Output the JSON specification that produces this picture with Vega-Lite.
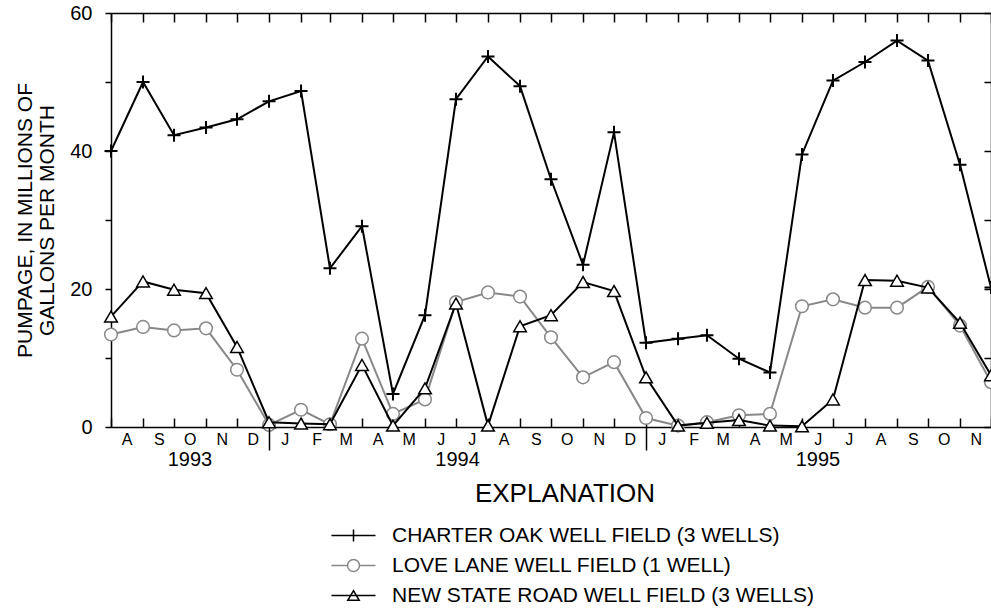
{
  "$schema": "https://vega.github.io/schema/vega-lite/v6.json",
  "width": 880,
  "height": 414,
  "autosize": {"type": "none"},
  "padding": {"left": 111, "top": 13, "right": 0, "bottom": 181},
  "background": "white",
  "config": {
    "view": {"stroke": null},
    "font": "Liberation Sans",
    "axis": {
      "domainColor": "black", "tickColor": "black", "domainWidth": 1.5, "tickWidth": 1.5,
      "labelColor": "black", "titleColor": "black", "grid": false,
      "labelFont": "Liberation Sans", "titleFont": "Liberation Sans", "titleFontWeight": "normal"
    },
    "legend": {"labelFont": "Liberation Sans", "titleFont": "Liberation Sans", "labelColor": "black", "titleColor": "black"}
  },
  "data": {
    "values": [
      {"date": "1993-08-01", "CO": 40.0, "LL": 13.4, "NSR": 16.0},
      {"date": "1993-09-01", "CO": 50.0, "LL": 14.5, "NSR": 21.1},
      {"date": "1993-10-01", "CO": 42.3, "LL": 14.0, "NSR": 19.9},
      {"date": "1993-11-01", "CO": 43.4, "LL": 14.3, "NSR": 19.4},
      {"date": "1993-12-01", "CO": 44.6, "LL": 8.3, "NSR": 11.6},
      {"date": "1994-01-01", "CO": 47.2, "LL": 0.3, "NSR": 0.7},
      {"date": "1994-02-01", "CO": 48.7, "LL": 2.5, "NSR": 0.5},
      {"date": "1994-03-01", "CO": 23.0, "LL": 0.4, "NSR": 0.4},
      {"date": "1994-04-01", "CO": 29.1, "LL": 12.8, "NSR": 9.0},
      {"date": "1994-05-01", "CO": 4.8, "LL": 1.9, "NSR": 0.2},
      {"date": "1994-06-01", "CO": 16.2, "LL": 4.0, "NSR": 5.6},
      {"date": "1994-07-01", "CO": 47.5, "LL": 18.1, "NSR": 17.9},
      {"date": "1994-08-01", "CO": 53.7, "LL": 19.5, "NSR": 0.2},
      {"date": "1994-09-01", "CO": 49.4, "LL": 18.9, "NSR": 14.6},
      {"date": "1994-10-01", "CO": 35.9, "LL": 13.0, "NSR": 16.2},
      {"date": "1994-11-01", "CO": 23.5, "LL": 7.2, "NSR": 21.0},
      {"date": "1994-12-01", "CO": 42.7, "LL": 9.4, "NSR": 19.7},
      {"date": "1995-01-01", "CO": 12.2, "LL": 1.3, "NSR": 7.2},
      {"date": "1995-02-01", "CO": 12.8, "LL": 0.2, "NSR": 0.2},
      {"date": "1995-03-01", "CO": 13.3, "LL": 0.7, "NSR": 0.6},
      {"date": "1995-04-01", "CO": 9.9, "LL": 1.7, "NSR": 1.0},
      {"date": "1995-05-01", "CO": 7.9, "LL": 1.9, "NSR": 0.2},
      {"date": "1995-06-01", "CO": 39.5, "LL": 17.5, "NSR": 0.1},
      {"date": "1995-07-01", "CO": 50.2, "LL": 18.5, "NSR": 4.0},
      {"date": "1995-08-01", "CO": 52.9, "LL": 17.3, "NSR": 21.3},
      {"date": "1995-09-01", "CO": 56.0, "LL": 17.3, "NSR": 21.2},
      {"date": "1995-10-01", "CO": 53.1, "LL": 20.3, "NSR": 20.2},
      {"date": "1995-11-01", "CO": 38.0, "LL": 14.7, "NSR": 15.1},
      {"date": "1995-12-01", "CO": 20.2, "LL": 6.5, "NSR": 7.5}
    ]
  },
  "layer": [
    {
      "mark": {"type": "line", "strokeWidth": 2},
      "encoding": {
        "x": {
          "field": "date", "type": "temporal",
          "scale": {"type": "utc", "domain": [{"year": 1993, "month": 8, "date": 1, "utc": true}, {"year": 1995, "month": 12, "date": 1, "utc": true}]},
          "axis": {
            "orient": "bottom", "title": null,
            "tickCount": {"interval": "month", "step": 1},
            "tickSize": -9,
            "labelExpr": "datum.value >= utc(1995, 11, 1) ? '' : slice(utcFormat(datum.value, '%B'), 0, 1)",
            "labelOffset": 15.7, "labelFontSize": 16, "labelPadding": 21,
            "labelAlign": "center", "labelBaseline": "middle",
            "labelOverlap": false, "labelFlush": false
          }
        },
        "y": {
          "field": "LL", "type": "quantitative",
          "scale": {"domain": [0, 60], "nice": false},
          "axis": {
            "orient": "left",
            "values": [0, 10, 20, 30, 40, 50, 60],
            "tickSize": 6, "labelPadding": 13, "labelFontSize": 20,
            "labelExpr": "datum.value % 20 === 0 ? datum.label : ''",
            "title": ["PUMPAGE, IN MILLIONS OF", "GALLONS PER MONTH"],
            "titleFontSize": 21, "titleLineHeight": 22, "titlePadding": 12
          }
        },
        "color": {
          "datum": "LOVE LANE WELL FIELD (1 WELL)",
          "scale": {
            "domain": ["CHARTER OAK WELL FIELD (3 WELLS)", "LOVE LANE WELL FIELD (1 WELL)", "NEW STATE ROAD WELL FIELD (3 WELLS)"],
            "range": ["black", "#888888", "black"]
          },
          "legend": {
            "title": "EXPLANATION",
            "orient": "none", "legendX": 232, "legendY": 468,
            "direction": "vertical",
            "padding": 0,
            "titleFontSize": 26, "titleFontWeight": "normal", "titleAnchor": "middle", "titlePadding": 18, "titleLimit": 0,
            "labelFontSize": 21, "labelLimit": 0, "labelOffset": 28, "rowPadding": 8,
            "symbolSize": 144, "symbolStrokeWidth": 1.5,
            "encode": {
              "symbols": {
                "update": {
                  "shape": {"signal": "datum.value === 'CHARTER OAK WELL FIELD (3 WELLS)' ? 'M-3.67,0H3.67M0,-1V1' : datum.value === 'LOVE LANE WELL FIELD (1 WELL)' ? 'M-3.67,0H-1A1,1,0,1,1,1,0A1,1,0,1,1,-1,0M1,0H3.67' : 'M-3.67,0H3.67M0,-0.8L0.95,0.8H-0.95Z'"},
                  "fill": {"value": "white"}
                }
              },
              "title": {"update": {"dx": {"value": -14}}}
            }
          }
        }
      }
    },
    {
      "mark": {"type": "point", "shape": "circle", "size": 160, "fill": "white", "stroke": "#888888", "strokeWidth": 1.5, "opacity": 1, "filled": true},
      "encoding": {
        "x": {
          "field": "date", "type": "temporal",
          "scale": {"type": "utc", "domain": [{"year": 1993, "month": 8, "date": 1, "utc": true}, {"year": 1995, "month": 12, "date": 1, "utc": true}]},
          "axis": {
            "orient": "bottom", "title": null,
            "values": [{"year": 1993, "month": 10, "date": 16, "utc": true}, {"year": 1994, "month": 7, "date": 2, "utc": true}, {"year": 1995, "month": 6, "date": 16, "utc": true}],
            "ticks": false, "domain": false,
            "labelExpr": "utcFormat(datum.value, '%Y')",
            "labelFontSize": 20, "labelPadding": 32, "labelBaseline": "middle", "labelAlign": "center",
            "labelFlush": false, "labelOverlap": false
          }
        },
        "y": {"field": "LL", "type": "quantitative", "scale": {"domain": [0, 60], "nice": false}, "axis": null}
      }
    },
    {
      "mark": {"type": "line", "strokeWidth": 2},
      "encoding": {
        "x": {
          "field": "date", "type": "temporal",
          "scale": {"type": "utc", "domain": [{"year": 1993, "month": 8, "date": 1, "utc": true}, {"year": 1995, "month": 12, "date": 1, "utc": true}]},
          "axis": {"orient": "top", "title": null, "tickCount": {"interval": "month", "step": 1}, "tickSize": -9, "labels": false}
        },
        "y": {
          "field": "NSR", "type": "quantitative", "scale": {"domain": [0, 60], "nice": false},
          "axis": {"orient": "right", "title": null, "values": [0, 10, 20, 30, 40, 50, 60], "tickSize": -7, "labels": false}
        },
        "color": {"datum": "NEW STATE ROAD WELL FIELD (3 WELLS)"}
      }
    },
    {
      "mark": {"type": "point", "shape": "triangle-up", "size": 160, "fill": "white", "stroke": "black", "strokeWidth": 1.5, "opacity": 1, "filled": true},
      "encoding": {
        "x": {
          "field": "date", "type": "temporal",
          "scale": {"type": "utc", "domain": [{"year": 1993, "month": 8, "date": 1, "utc": true}, {"year": 1995, "month": 12, "date": 1, "utc": true}]},
          "axis": {
            "orient": "bottom", "title": null,
            "values": [{"year": 1994, "month": 1, "date": 1, "utc": true}, {"year": 1995, "month": 1, "date": 1, "utc": true}],
            "tickSize": 23, "labels": false, "domain": false, "zindex": 1
          }
        },
        "y": {"field": "NSR", "type": "quantitative", "scale": {"domain": [0, 60], "nice": false}, "axis": null}
      }
    },
    {
      "mark": {"type": "line", "strokeWidth": 2},
      "encoding": {
        "x": {
          "field": "date", "type": "temporal",
          "scale": {"type": "utc", "domain": [{"year": 1993, "month": 8, "date": 1, "utc": true}, {"year": 1995, "month": 12, "date": 1, "utc": true}]},
          "axis": null
        },
        "y": {"field": "CO", "type": "quantitative", "scale": {"domain": [0, 60], "nice": false}, "axis": null},
        "color": {"datum": "CHARTER OAK WELL FIELD (3 WELLS)"}
      }
    },
    {
      "mark": {"type": "point", "shape": "M-1,0H1M0,-1V1", "size": 169, "filled": false, "stroke": "black", "strokeWidth": 2, "opacity": 1},
      "encoding": {
        "x": {
          "field": "date", "type": "temporal",
          "scale": {"type": "utc", "domain": [{"year": 1993, "month": 8, "date": 1, "utc": true}, {"year": 1995, "month": 12, "date": 1, "utc": true}]},
          "axis": null
        },
        "y": {"field": "CO", "type": "quantitative", "scale": {"domain": [0, 60], "nice": false}, "axis": null}
      }
    }
  ],
  "resolve": {"axis": {"x": "independent", "y": "independent"}}
}
